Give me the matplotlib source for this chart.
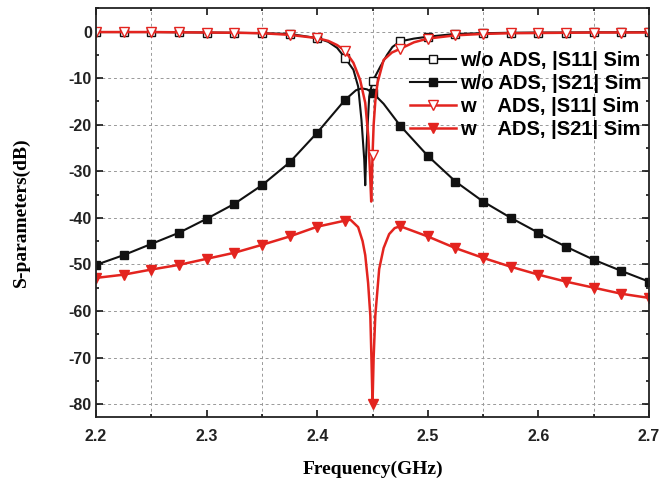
import numpy as np
import matplotlib
matplotlib.use('Agg')
from matplotlib import pyplot as plt
from matplotlib.ticker import MultipleLocator

plt.rcParams['axes.unicode_minus'] = False

# w/o ADS, |S11|
f_s11_wo = [2.2, 2.225, 2.25, 2.275, 2.3, 2.325, 2.35, 2.375, 2.4, 2.41, 2.418,
            2.425, 2.4327, 2.437, 2.44, 2.4425, 2.4434, 2.4443, 2.4458, 2.447,
            2.45, 2.4571, 2.4631, 2.468, 2.475, 2.4875, 2.5, 2.525, 2.55, 2.575,
            2.6, 2.625, 2.65, 2.675, 2.7]
s11_wo = [-0.1, -0.1, -0.1, -0.15, -0.2, -0.25, -0.35, -0.5, -1.4, -2.2, -3.5,
          -5.6, -8.2, -11.8, -19, -27.5, -33, -26, -19, -14,
          -10.7, -7.5, -5, -3.3, -2.1, -1.5, -1.1, -0.5, -0.35, -0.25,
          -0.2, -0.2, -0.15, -0.15, -0.1]

# w/o ADS, |S21|
f_s21_wo = [2.2, 2.225, 2.25, 2.275, 2.3, 2.325, 2.35, 2.375, 2.4, 2.425, 2.435,
            2.44, 2.445, 2.45, 2.46, 2.475, 2.5, 2.525, 2.55, 2.575, 2.6, 2.625,
            2.65, 2.675, 2.7]
s21_wo = [-50.1, -48, -45.6, -43.2, -40.2, -37, -33, -28.1, -21.7, -14.7, -12.6,
          -12.2, -12.4, -13.1, -15.5, -20.2, -26.7, -32.2, -36.5, -40, -43.2, -46.2,
          -49, -51.4, -53.7]

# w ADS, |S11|
f_s11_w = [2.2, 2.225, 2.25, 2.275, 2.3, 2.325, 2.35, 2.375, 2.4, 2.41, 2.418,
           2.425, 2.4327, 2.4388, 2.4434, 2.4462, 2.448, 2.4488, 2.4495, 2.45,
           2.451, 2.4525, 2.4545, 2.46, 2.4675, 2.475, 2.4875, 2.5, 2.525, 2.55,
           2.575, 2.6, 2.625, 2.65, 2.675, 2.7]
s11_w = [-0.1, -0.1, -0.1, -0.15, -0.2, -0.25, -0.35, -0.7, -1.4, -2.0, -2.9,
         -4.1, -6.7, -10.4, -15.3, -22.6, -31.8, -36.5, -31, -26.5,
         -20, -15, -11, -6.1, -4.5, -3.7, -2.3, -1.5, -0.8, -0.5,
         -0.35, -0.3, -0.25, -0.2, -0.2, -0.2]

# w ADS, |S21|
f_s21_w = [2.2, 2.225, 2.25, 2.275, 2.3, 2.325, 2.35, 2.375, 2.4, 2.425, 2.43,
           2.437, 2.441, 2.4434, 2.446, 2.448, 2.449, 2.45, 2.451, 2.4525,
           2.456, 2.46, 2.465, 2.47, 2.475, 2.5, 2.525, 2.55, 2.575, 2.6, 2.625,
           2.65, 2.675, 2.7]
s21_w = [-52.9, -52.2, -51.1, -50.1, -48.8, -47.5, -45.8, -44, -41.9, -40.6, -40.4,
         -42, -45, -48, -54, -61, -70, -80, -70, -61,
         -51, -46.5, -43.5, -42.2, -41.8, -44, -46.5, -48.6, -50.5, -52.2, -53.7,
         -55, -56.3, -57.2]

labels = ['w/o ADS, |S11| Sim', 'w/o ADS, |S21| Sim',
          'w    ADS, |S11| Sim', 'w    ADS, |S21| Sim']


def marks(f):
    # markers only on the 25 MHz grid
    out = []
    for i, v in enumerate(f):
        k = v / 0.025
        if abs(k - round(k)) < 1e-6:
            out.append(i)
    return out


red = '#e3241f'
blk = '#111111'

fig = plt.figure(figsize=(6.6, 4.83), dpi=100)
ax = fig.add_axes([0.1455, 0.1373, 0.8379, 0.8455])

ax.plot(f_s11_wo, s11_wo, color=blk, lw=1.5, marker='s', ms=6,
        mfc='white', mec=blk, mew=1.0, markevery=marks(f_s11_wo), label=labels[0])
ax.plot(f_s21_wo, s21_wo, color=blk, lw=1.5, marker='s', ms=6,
        mfc=blk, mec=blk, markevery=marks(f_s21_wo), label=labels[1])
ax.plot(f_s11_w, s11_w, color=red, lw=1.8, marker='v', ms=7.5,
        mfc='white', mec=red, mew=1.0, markevery=marks(f_s11_w), label=labels[2])
ax.plot(f_s21_w, s21_w, color=red, lw=1.8, marker='v', ms=7.5,
        mfc=red, mec=red, markevery=marks(f_s21_w), label=labels[3])

ax.set_xlim(2.2, 2.7)
ax.set_ylim(-82.7, 5)
ax.xaxis.set_major_locator(MultipleLocator(0.1))
ax.xaxis.set_minor_locator(MultipleLocator(0.05))
ax.yaxis.set_major_locator(MultipleLocator(10))
ax.yaxis.set_minor_locator(MultipleLocator(5))
ax.tick_params(which='both', direction='in', top=True, right=True, width=1.1)
ax.tick_params(which='major', length=5)
ax.tick_params(which='minor', length=2.5)
ax.tick_params(axis='x', pad=9)
ax.tick_params(axis='y', pad=3)

ax.grid(which='minor', axis='x', color='#999999', ls=(0, (3, 3)), lw=0.7)
ax.grid(which='major', axis='y', color='#999999', ls=(0, (3, 3)), lw=0.7)

for sp in ax.spines.values():
    sp.set_linewidth(1.3)
    sp.set_color('#222222')

for lab in ax.get_xticklabels() + ax.get_yticklabels():
    lab.set_fontfamily('Liberation Sans')
    lab.set_fontweight('bold')
    lab.set_fontsize(11.5)
    lab.set_color('#222222')

ax.set_xlabel('Frequency(GHz)', family='Liberation Serif', weight='bold',
              fontsize=14, labelpad=12)
ax.set_ylabel('S-parameters(dB)', family='Liberation Serif', weight='bold',
              fontsize=14)
ax.yaxis.set_label_coords(-0.12, 0.5)

ax.legend(loc='upper left', bbox_to_anchor=(0.568, 0.895), frameon=False,
          borderpad=0, borderaxespad=0, handlelength=2.3, handletextpad=0.2,
          labelspacing=0.2, numpoints=1,
          prop={'family': 'Liberation Sans', 'weight': 'bold', 'size': 14.5})

fig.savefig('out.png', dpi=100)
